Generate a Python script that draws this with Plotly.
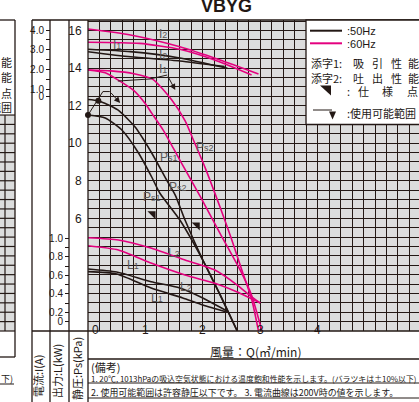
import plotly.graph_objects as go

W, H = 419, 402
BLACK = '#231815'
MAGENTA = '#e4007f'
GRAY = '#595757'
NUM = 'Liberation Sans, Arial, sans-serif'
CJK = 'Noto Sans CJK JP, sans-serif'

# ---- values, Q = air flow (m3/min) ----
# static pressure Ps (kPa)
q_ps1_50 = [0, 0.3, 0.59, 0.88, 1.11, 1.25, 1.6, 2.0, 2.3, 2.6]
ps1_50 = [11.5, 11.34, 10.7, 9.48, 8.2, 7.35, 5.91, 3.78, 1.95, 0.0]
q_ps2_50 = [0, 0.18, 0.52, 0.82, 1.11, 1.37, 1.52, 1.69, 2.0, 2.3, 2.6]
ps2_50 = [12.33, 12.26, 11.77, 10.86, 9.48, 8.04, 7.24, 5.91, 3.78, 1.92, 0.0]
q_ps1_60 = [0, 0.3, 0.52, 0.8, 1.0, 1.11, 1.31, 1.6, 1.95, 2.3, 2.65, 2.85, 3.03]
ps1_60 = [13.9, 13.75, 13.37, 12.8, 12.1, 11.6, 10.7, 9.1, 7.2, 5.2, 3.25, 1.9, 0.0]
q_ps2_60 = [0, 0.4, 0.8, 1.13, 1.46, 1.69, 1.86, 2.04, 2.3, 2.5, 2.68, 2.85, 2.97]
ps2_60 = [13.9, 13.85, 13.7, 13.4, 12.3, 11.2, 10.0, 8.7, 6.6, 4.9, 3.25, 1.7, 0.0]

# shaft power L (kW)
q_l1_50 = [0, 0.5, 1.1, 1.65, 2.0, 2.42]
l1_50 = [0.64, 0.615, 0.464, 0.356, 0.28, 0.205]
q_l2_50 = [0, 0.5, 1.1, 1.6, 2.0, 2.42]
l2_50 = [0.669, 0.636, 0.532, 0.464, 0.356, 0.216]
q_l1_60 = [0, 0.53, 1.11, 1.69, 2.21, 2.6, 3.0]
l1_60 = [0.92, 0.874, 0.73, 0.604, 0.515, 0.421, 0.302]
q_l2_60 = [0, 0.53, 1.11, 1.69, 2.21, 2.6, 2.81, 3.0]
l2_60 = [1.006, 0.982, 0.892, 0.766, 0.658, 0.496, 0.388, 0.302]

# current I (A)
q_i1_50 = [0, 0.74, 1.6, 2.38]
i1_50 = [2.9, 2.64, 2.43, 2.14]
q_i2_50 = [0, 0.74, 1.6, 2.43]
i2_50 = [3.02, 2.9, 2.58, 2.06]
q_i1_60 = [0, 0.9, 1.6, 2.3, 2.85]
i1_60 = [3.38, 3.32, 3.02, 2.38, 1.72]
q_i2_60 = [0, 0.74, 1.6, 2.3, 2.97]
i2_60 = [4.05, 3.75, 3.15, 2.48, 1.77]

# spec points and usable range marks
spec_q = [1.13, 1.90]
spec_ps = [6.23, 5.64]
limit50_q = [0, 0.18]
limit50_ps = [11.5, 12.26]
range50_q = [0, 0.26, 0.38, 0.56]
range50_ps = [11.5, 12.75, 12.75, 12.14]
range60_q = [0.52, 1.08, 1.38, 1.52]
range60_ps = [13.31, 13.42, 13.63, 12.83]

# axis ticks
q_ticks = [0, 1, 2, 3, 4]
ps_ticks = [6, 8, 10, 12, 14, 16]
l_tickvals = [0.1, 0.2, 0.3, 0.4, 0.5, 0.6, 0.7, 0.8, 0.9, 1.0]
l_ticktext = ['0', '0.2', '', '0.4', '', '0.6', '', '0.8', '', '1.0']
i_tickvals = [0.6, 1.0, 1.5, 2.0, 2.5, 3.0, 3.5, 4.0]
i_ticktext = ['0', '1.0', '', '2.0', '', '3.0', '', '4.0']


def px(x):
    return x / W


def py(y):
    return 1 - y / H


fig = go.Figure()


def curve(q, v, color, axis='y'):
    fig.add_trace(go.Scatter(x=q, y=v, yaxis=axis, mode='lines', line=dict(color=color, width=1.6, shape='spline', smoothing=0.6),
                             hoverinfo='skip', showlegend=False))


curve(q_ps1_50, ps1_50, BLACK)
curve(q_ps2_50, ps2_50, BLACK)
curve(q_ps1_60, ps1_60, MAGENTA)
curve(q_ps2_60, ps2_60, MAGENTA)
curve(q_l1_50, l1_50, BLACK, 'y2')
curve(q_l2_50, l2_50, BLACK, 'y2')
curve(q_l1_60, l1_60, MAGENTA, 'y2')
curve(q_l2_60, l2_60, MAGENTA, 'y2')
curve(q_i1_50, i1_50, BLACK, 'y3')
curve(q_i2_50, i2_50, BLACK, 'y3')
curve(q_i1_60, i1_60, MAGENTA, 'y3')
curve(q_i2_60, i2_60, MAGENTA, 'y3')

# usable range brackets
fig.add_trace(go.Scatter(x=range50_q[:3], y=range50_ps[:3], mode='lines', line=dict(color=BLACK, width=1),
                         hoverinfo='skip', showlegend=False, cliponaxis=False))
fig.add_trace(go.Scatter(x=range60_q[:3], y=range60_ps[:3], mode='lines', line=dict(color=BLACK, width=1),
                         hoverinfo='skip', showlegend=False))
fig.add_trace(go.Scatter(x=limit50_q, y=limit50_ps, mode='markers', marker=dict(color=BLACK, size=6),
                         hoverinfo='skip', showlegend=False, cliponaxis=False))
# spec points
fig.add_trace(go.Scatter(x=spec_q, y=spec_ps, mode='markers', marker=dict(symbol='triangle-ne', color=BLACK, size=9),
                         hoverinfo='skip', showlegend=False))

ann = []
for rq, rp in ((range50_q, range50_ps), (range60_q, range60_ps)):
    ann.append(dict(x=rq[3], y=rp[3], ax=rq[2], ay=rp[2], xref='x', yref='y', axref='x', ayref='y', text='',
                    showarrow=True, arrowhead=2, arrowsize=1.2, arrowwidth=1, arrowcolor=BLACK))


# curve labels
def lab(text, sub, q, p):
    ann.append(dict(x=q, y=p, xref='x', yref='y', showarrow=False,
                    text=f"{text}<span style='font-size:9px'>{sub}</span>",
                    font=dict(family=NUM, size=12, color=GRAY)))


lab('I', '2', 1.31, 15.79)
lab('I', '2', 1.31, 14.72)
lab('I', '1', 1.31, 13.97)
lab('I', '1', 0.505, 15.21)
lab('P', 's2', 2.04, 9.81)
lab('P', 's1', 1.41, 9.28)
lab('P', 's2', 1.56, 7.68)
lab('P', 's1', 1.12, 7.15)
lab('L', '2', 1.5, 4.18)
lab('L', '1', 0.79, 3.53)
lab('L', '2', 1.71, 2.32)
lab('L', '1', 1.21, 1.76)

# x tick labels
for q in q_ticks:
    ann.append(dict(x=q, y=py(339), xref='x', yref='paper', text=str(q), showarrow=False,
                    xshift=7 if q == 0 else 0, font=dict(family=NUM, size=12, color=BLACK)))


def txt(text, x, y, size=11, xanchor='left', family=CJK, **kw):
    ann.append(dict(x=px(x), y=py(y), xref='paper', yref='paper', text=text, showarrow=False,
                    xanchor=xanchor, yanchor='middle', font=dict(family=family, size=size, color=BLACK), **kw))


txt('風量：Q(㎥/min)', 255, 351, size=12, xanchor='center')
txt('(備考)', 89, 367, size=11)
txt('1. 20℃, 1013hPaの吸込空気状態における温度飽和性能を示します。(バラツキは±10%以下)', 89, 378, size=7.9)
txt('2. 使用可能範囲は許容静圧以下です。 3. 電流曲線は200V時の値を示します。', 89, 392, size=8.95)
txt('下)', 15, 378, size=9, xanchor='right')
txt('<b>VBYG</b>', 226, 6, size=18, xanchor='center', family=NUM)

# rotated axis titles
for t, x, top in (('電流:I(A)', 38, 353), ('出力:L(kW)', 57, 342), ('静圧:Ps(kPa)', 76.5, 335)):
    ann.append(dict(x=px(x), y=py(top), xref='paper', yref='paper', text=t, showarrow=False, textangle=-90,
                    xanchor='center', yanchor='top', font=dict(family=CJK, size=11, color=BLACK)))

# neighbouring chart fragment on the left
for t, y in (('能', 62), ('能', 77), ('点', 93), ('範囲', 107)):
    txt(t, 14, y, size=11, xanchor='right')

# legend
txt(':50Hz', 345, 31, size=11, family=NUM)
txt(':60Hz', 345, 44, size=11, family=NUM)
txt('添字1:', 309, 63, size=11)
txt('添字2:', 309, 78, size=11)
for ch, x in zip('吸引性能', (358, 377, 396, 413)):
    txt(ch, x, 63, size=11, xanchor='center')
for ch, x in zip('吐出性能', (358, 377, 396, 413)):
    txt(ch, x, 78, size=11, xanchor='center')
txt(':', 345, 91, size=11)
for ch, x in zip('仕様点', (363, 387, 412)):
    txt(ch, x, 91, size=11, xanchor='center')
txt(':使用可能範囲', 345, 113, size=11)

shapes = []


def hline(y, x0, x1, w=1.3):
    shapes.append(dict(type='line', xref='paper', yref='paper', x0=px(x0), x1=px(x1), y0=py(y), y1=py(y),
                       line=dict(color=BLACK, width=w), layer='above'))


def vline(x, y0, y1, w=1.3):
    shapes.append(dict(type='line', xref='paper', yref='paper', x0=px(x), x1=px(x), y0=py(y0), y1=py(y1),
                       line=dict(color=BLACK, width=w), layer='above'))


# left fragment grid
shapes.append(dict(type='rect', xref='paper', yref='paper', x0=0, x1=px(15), y0=py(331), y1=py(115),
                   fillcolor='#dcdddd', line=dict(width=0), layer='below'))
k = 0
while 331 - k * 9.39 >= 114:
    hline(331 - k * 9.39, 0, 15, 1.2)
    k += 1
vline(5, 115, 331, 1.2)
vline(15, 20, 357)
hline(20, 0, 15)
hline(357, 0, 15)
shapes.append(dict(type='line', xref='paper', yref='paper', x0=0, x1=px(14), y0=py(384), y1=py(384),
                   line=dict(color=BLACK, width=1)))

# main frame
hline(20, 32, 419)
hline(331, 32, 419)
hline(359, 88, 419)
for x in (32, 50, 69, 88):
    vline(x, 20, 402)
for y in (383, 398):
    shapes.append(dict(type='line', xref='paper', yref='paper', x0=px(88), x1=1, y0=py(y), y1=py(y),
                       line=dict(color=BLACK, width=1)))

# legend box
shapes.append(dict(type='rect', xref='paper', yref='paper', x0=px(306), x1=1.01, y0=py(124.5), y1=py(20),
                   fillcolor='white', line=dict(color=BLACK, width=1.3), layer='above'))
shapes.append(dict(type='line', xref='paper', yref='paper', x0=px(310), x1=px(342), y0=py(30.7), y1=py(30.7),
                   line=dict(color=BLACK, width=2), layer='above'))
shapes.append(dict(type='line', xref='paper', yref='paper', x0=px(310), x1=px(342), y0=py(43.3), y1=py(43.3),
                   line=dict(color=MAGENTA, width=2), layer='above'))
shapes.append(dict(type='path', xref='paper', yref='paper',
                   path=f'M {px(320)},{py(85.5)} L {px(331)},{py(85.5)} L {px(331)},{py(95.5)} Z',
                   fillcolor=BLACK, line=dict(width=0), layer='above'))
shapes.append(dict(type='line', xref='paper', yref='paper', x0=px(313), x1=px(332), y0=py(110), y1=py(110),
                   line=dict(color=BLACK, width=1), layer='above'))
shapes.append(dict(type='path', xref='paper', yref='paper',
                   path=f'M {px(329)},{py(111.5)} L {px(336)},{py(111.5)} L {px(332.5)},{py(119.5)} Z',
                   fillcolor=BLACK, line=dict(width=0), layer='above'))

ps_vals = [i * 0.5 for i in range(34)]
ps_text = [str(int(v)) if v in ps_ticks else '' for v in ps_vals]

y_dom = [py(331), py(20)]
fig.update_layout(
    width=W, height=H, margin=dict(l=0, r=0, t=0, b=0),
    paper_bgcolor='white', plot_bgcolor='#dcdddd',
    xaxis=dict(domain=[px(88), 1], range=[0, (419 - 88) / 57.4], dtick=0.2, tick0=0, showticklabels=False,
               showgrid=True, gridcolor=BLACK, gridwidth=1.3, zeroline=False, ticks='', showline=False),
    yaxis=dict(domain=y_dom, range=[0, 311 / 18.78], tickmode='array', tickvals=ps_vals, ticktext=ps_text,
               showgrid=True, gridcolor=BLACK, gridwidth=1.3, zeroline=False, ticks='outside', ticklen=3,
               tickcolor='rgba(0,0,0,0)', tickfont=dict(family=NUM, size=12, color=BLACK), showline=False),
    yaxis2=dict(overlaying='y', anchor='free', position=px(69), side='left', range=[0, 311 / 92.7],
                tickmode='array', tickvals=l_tickvals, ticktext=l_ticktext, showgrid=False, zeroline=False,
                ticks='outside', ticklen=4, tickwidth=1, tickcolor=BLACK,
                tickfont=dict(family=NUM, size=10, color=BLACK), showline=False),
    yaxis3=dict(overlaying='y', anchor='free', position=px(50), side='left', range=[4 - 301 / 19.7, 4 + 10 / 19.7],
                tickmode='array', tickvals=i_tickvals, ticktext=i_ticktext, showgrid=False, zeroline=False,
                ticks='outside', ticklen=4, tickwidth=1, tickcolor=BLACK,
                tickfont=dict(family=NUM, size=10, color=BLACK), showline=False),
    annotations=ann, shapes=shapes,
)

fig.write_html("out.html", config={'displayModeBar': False},
               post_script="document.body.style.margin='0px';")
